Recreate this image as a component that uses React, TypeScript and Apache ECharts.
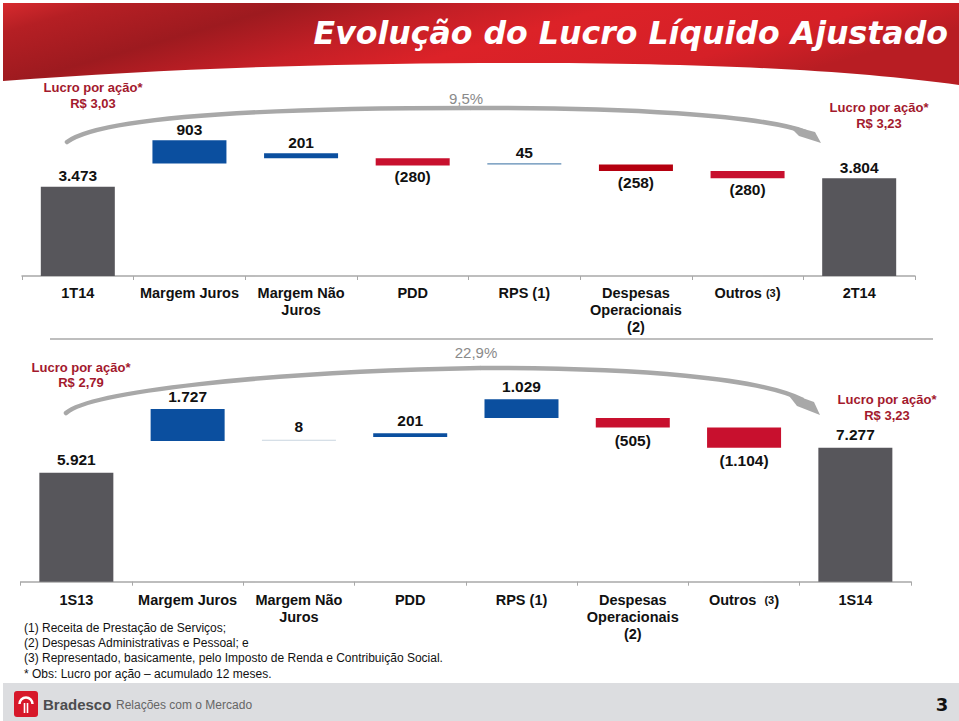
import React, { useEffect, useRef } from 'react';
import * as echarts from 'echarts';

// ---------- data ----------
const topCategories = ['1T14', 'Margem Juros', 'Margem Não\nJuros', 'PDD', 'RPS (1)', 'Despesas\nOperacionais\n(2)', 'Outros (3)', '2T14'];
const topValues = [3473, 903, 201, -280, 45, -258, -280, 3804];
const bottomCategories = ['1S13', 'Margem Juros', 'Margem Não\nJuros', 'PDD', 'RPS (1)', 'Despesas\nOperacionais\n(2)', 'Outros  (3)', '1S14'];
const bottomValues = [5921, 1727, 8, 201, 1029, -505, -1104, 7277];
const topGrowth = '9,5%';
const bottomGrowth = '22,9%';
const topEps = ['R$ 3,03', 'R$ 3,23'];
const bottomEps = ['R$ 2,79', 'R$ 3,23'];
const epsTitle = 'Lucro por ação*';
const title = 'Evolução do Lucro Líquido Ajustado';
const footnotes = [
  '(1) Receita de Prestação de Serviços;',
  '(2) Despesas Administrativas e Pessoal; e',
  '(3) Representado, basicamente, pelo Imposto de Renda e Contribuição Social.',
  '* Obs: Lucro por ação – acumulado 12 meses.',
];

// ---------- styles ----------
const GRAY = '#57565b';
const BLUE = '#0b4f9f';
const CRIMSON = '#c8102e';
const DARKRED = '#b5000f';
const topColors = [GRAY, BLUE, BLUE, CRIMSON, '#5d8ab3', DARKRED, CRIMSON, GRAY];
const bottomColors = [GRAY, BLUE, '#c9d5df', BLUE, BLUE, CRIMSON, CRIMSON, GRAY];
const ARIAL = '"Liberation Sans", Arial, sans-serif';

function fmt(v: number): string {
  const s = Math.abs(v).toString().replace(/\B(?=(\d{3})+(?!\d))/g, '.');
  return v < 0 ? `(${s})` : s;
}

function waterfall(values: number[]) {
  const base: number[] = [];
  const vis: number[] = [];
  let run = values[0];
  values.forEach((v, i) => {
    if (i === 0 || i === values.length - 1) {
      base.push(0);
      vis.push(v);
    } else {
      run += v;
      base.push(run);
      vis.push(Math.abs(v));
    }
  });
  return { base, vis };
}

function buildSeries(values: number[], colors: string[], idx: number, dist: number) {
  const { base, vis } = waterfall(values);
  const stack = 's' + idx;
  return [
    {
      type: 'bar',
      xAxisIndex: idx,
      yAxisIndex: idx,
      stack,
      barWidth: 74,
      silent: true,
      itemStyle: { color: 'transparent' },
      data: base,
    },
    {
      type: 'bar',
      xAxisIndex: idx,
      yAxisIndex: idx,
      stack,
      barWidth: 74,
      barMinHeight: 1,
      data: vis.map((v, i) => ({
        value: v,
        itemStyle: { color: colors[i] },
        label: { position: values[i] < 0 ? 'bottom' : 'top' },
      })),
      label: {
        show: true,
        distance: dist,
        formatter: (p: any) => fmt(values[p.dataIndex]),
        fontFamily: ARIAL,
        fontWeight: 'bold',
        fontSize: 15.5,
        color: '#111',
      },
    },
  ];
}

function xAxisFor(cats: string[], idx: number, margin: number) {
  return {
    type: 'category',
    gridIndex: idx,
    data: cats,
    axisLine: { lineStyle: { color: '#a8a8a8', width: 1.5 } },
    axisTick: { show: true, length: 4, lineStyle: { color: '#a8a8a8' } },
    axisLabel: {
      interval: 0,
      margin,
      fontFamily: ARIAL,
      fontWeight: 'bold',
      fontSize: 14.5,
      lineHeight: 17,
      color: '#111',
      formatter: (v: string) => v.replace('(3)', '{s|(3}{p|)}'),
      rich: {
        s: { fontFamily: ARIAL, fontWeight: 'bold', fontSize: 11, color: '#111' },
        p: { fontFamily: ARIAL, fontWeight: 'bold', fontSize: 15, color: '#111' },
      },
    },
  };
}

const bannerPath = 'M3,3 L959,3 L959,85 C850,70 700,62 480,63 C300,64 150,70 3,81 Z';
echarts.graphic.registerShape('banner', echarts.graphic.extendPath(bannerPath, {}) as any);

function txt(text: string, x: number, y: number, font: string, fill: string, align = 'center', lineHeight?: number) {
  return {
    type: 'text',
    x,
    y,
    style: { text, font, fill, textAlign: align, textVerticalAlign: 'middle', lineHeight },
  };
}

export default function App() {
  const ref = useRef<HTMLDivElement>(null);
  useEffect(() => {
    if (!ref.current) return;
    const chart = echarts.init(ref.current, undefined, { renderer: 'svg' });
    const epsFont = `bold 13px ${ARIAL}`;
    const epsColor = '#a3192d';
    const option: any = {
      animation: false,
      backgroundColor: '#fff',
      grid: [
        { left: 22, width: 893, top: 134.65, height: 141.35 },
        { left: 20.7, width: 890.3, top: 397.6, height: 184.1 },
      ],
      xAxis: [xAxisFor(topCategories, 0, 8), xAxisFor(bottomCategories, 1, 10)],
      yAxis: [
        { type: 'value', gridIndex: 0, min: 0, max: 5500, show: false, splitLine: { show: false } },
        { type: 'value', gridIndex: 1, min: 0, max: 10000, show: false, splitLine: { show: false } },
      ],
      series: [...buildSeries(topValues, topColors, 0, 3), ...buildSeries(bottomValues, bottomColors, 1, 5)],
      graphic: [
        {
          type: 'banner',
          x: 0,
          y: 0,
          silent: true,
          style: {
            fill: new echarts.graphic.LinearGradient(0, 0, 1, 0.3, [
              { offset: 0, color: '#d72a2e' },
              { offset: 0.1, color: '#b51f24' },
              { offset: 0.28, color: '#9d1a1f' },
              { offset: 0.45, color: '#c41f26' },
              { offset: 0.6, color: '#dc2228' },
              { offset: 0.85, color: '#d52027' },
              { offset: 1, color: '#b81d23' },
            ]),
          },
        },
        txt(title, 948, 33, `italic bold 31.6px "DejaVu Sans", Verdana, sans-serif`, '#fff', 'right'),
        // EPS annotations
        txt(`${epsTitle}\n${topEps[0]}`, 93, 95, epsFont, epsColor, 'center', 16),
        txt(`${epsTitle}\n${topEps[1]}`, 879, 115, epsFont, epsColor, 'center', 16),
        txt(`${epsTitle}\n${bottomEps[0]}`, 81, 375, epsFont, epsColor, 'center', 15.5),
        txt(`${epsTitle}\n${bottomEps[1]}`, 887, 407, epsFont, epsColor, 'center', 16),
        // growth labels
        txt(topGrowth, 466, 98, `15px ${ARIAL}`, '#8a8a8a'),
        txt(bottomGrowth, 476, 352, `15px ${ARIAL}`, '#8a8a8a'),
        // curved arrows (top)
        {
          type: 'bezierCurve',
          silent: true,
          shape: { x1: 67, y1: 142, cpx1: 100, cpy1: 118, cpx2: 250, cpy2: 108, x2: 470, y2: 108 },
          style: { stroke: '#a8a8a8', lineWidth: 4.5, fill: null, lineCap: 'round' },
        },
        {
          type: 'bezierCurve',
          silent: true,
          shape: { x1: 470, y1: 108, cpx1: 620, cpy1: 107, cpx2: 760, cpy2: 115, x2: 806, y2: 132 },
          style: { stroke: '#a8a8a8', lineWidth: 4.5, fill: null },
        },
        {
          type: 'polygon',
          silent: true,
          shape: { points: [[788, 125], [815, 132], [821, 143], [799, 136]] },
          style: { fill: '#a8a8a8' },
        },
        // curved arrows (bottom)
        {
          type: 'bezierCurve',
          silent: true,
          shape: { x1: 66, y1: 413, cpx1: 90, cpy1: 392, cpx2: 260, cpy2: 372, x2: 480, y2: 368 },
          style: { stroke: '#a8a8a8', lineWidth: 4.5, fill: null, lineCap: 'round' },
        },
        {
          type: 'bezierCurve',
          silent: true,
          shape: { x1: 480, y1: 368, cpx1: 640, cpy1: 368, cpx2: 760, cpy2: 378, x2: 803, y2: 400 },
          style: { stroke: '#a8a8a8', lineWidth: 4.5, fill: null },
        },
        {
          type: 'polygon',
          silent: true,
          shape: { points: [[786, 392], [814, 402], [820, 415], [797, 406]] },
          style: { fill: '#a8a8a8' },
        },
        // separator
        {
          type: 'line',
          silent: true,
          shape: { x1: 50, y1: 339, x2: 933, y2: 339 },
          style: { stroke: '#a8a8a8', lineWidth: 1.5 },
        },
        // footnotes
        ...footnotes.map((f, i) => txt(f, 24, 628 + i * 15.2, `12px ${ARIAL}`, '#111', 'left')),
        // footer band
        {
          type: 'rect',
          silent: true,
          shape: { x: 3, y: 683, width: 956, height: 38 },
          style: { fill: '#dcdde0' },
        },
        {
          type: 'rect',
          silent: true,
          shape: { x: 14, y: 691, width: 24, height: 26, r: 3 },
          style: { fill: '#d7182a' },
        },
        {
          type: 'arc',
          silent: true,
          shape: { cx: 26, cy: 704, r: 6.5, startAngle: Math.PI, endAngle: 2 * Math.PI, clockwise: true },
          style: { stroke: '#fff', lineWidth: 2.5, fill: null },
        },
        {
          type: 'line',
          silent: true,
          shape: { x1: 24.5, y1: 703, x2: 24.5, y2: 713 },
          style: { stroke: '#fff', lineWidth: 1.6 },
        },
        {
          type: 'line',
          silent: true,
          shape: { x1: 27.5, y1: 703, x2: 27.5, y2: 713 },
          style: { stroke: '#fff', lineWidth: 1.6 },
        },
        txt('Bradesco', 43, 704, `bold 15px ${ARIAL}`, '#4d4d4f', 'left'),
        txt('Relações com o Mercado', 116, 705, `12px ${ARIAL}`, '#666', 'left'),
        txt('3', 942, 704, `bold 18px "DejaVu Sans", Verdana, sans-serif`, '#111', 'center'),
      ],
    };
    chart.setOption(option);
    return () => chart.dispose();
  }, []);
  return <div ref={ref} style={{ position: 'absolute', left: 0, top: 0, width: 959, height: 721 }} />;
}
